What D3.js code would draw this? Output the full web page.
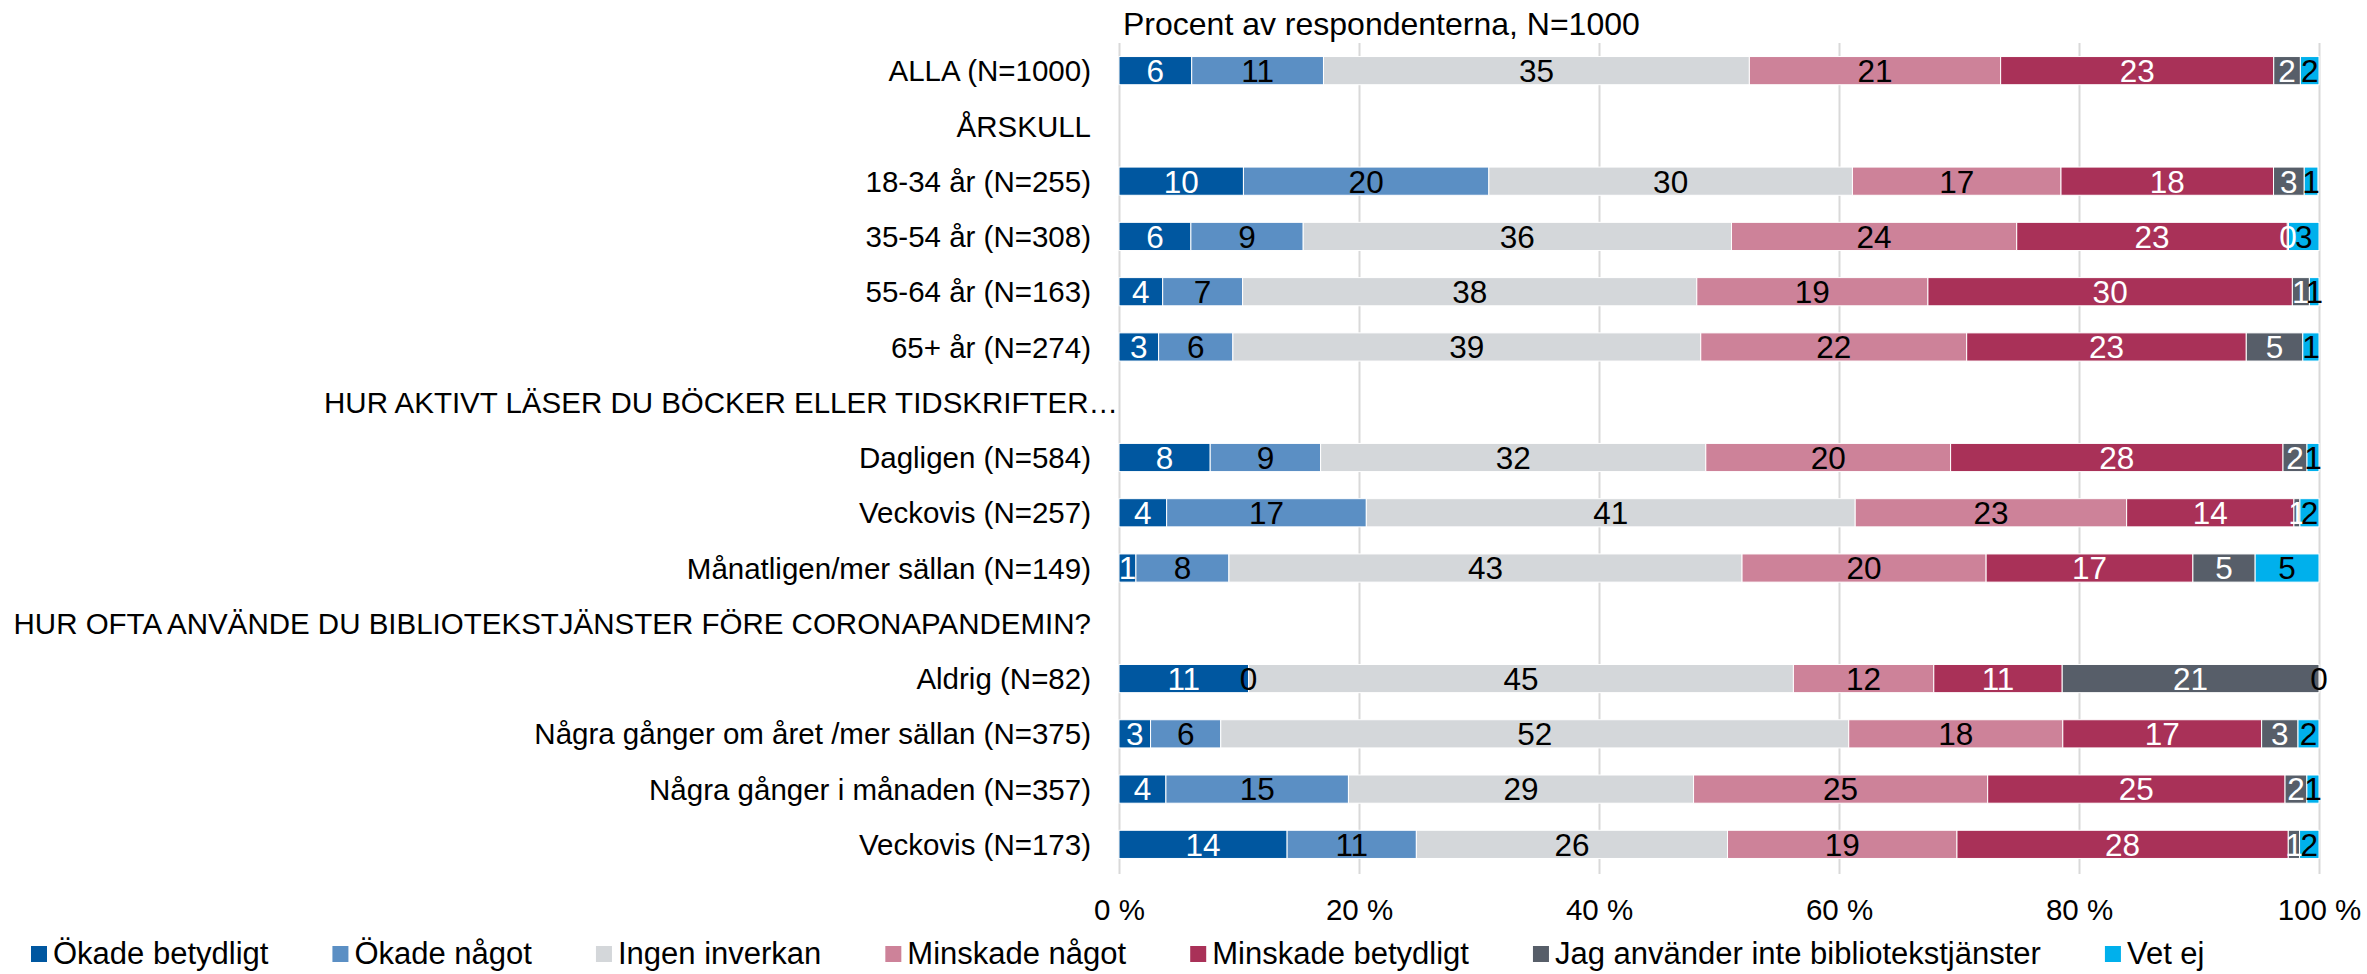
<!DOCTYPE html>
<html>
<head>
<meta charset="utf-8">
<script src="https://cdn.jsdelivr.net/npm/d3@7"></script>
<style>
  body { margin: 0; background: #fff; }
  text { font-family: "Liberation Sans", Arial, sans-serif; }
</style>
</head>
<body>
<div id="chart"></div>
<script>
// rows, top to bottom; header rows carry no values
let categories = [
  'ALLA (N=1000)',
  'ÅRSKULL',
  '18-34 år (N=255)',
  '35-54 år (N=308)',
  '55-64 år (N=163)',
  '65+ år (N=274)',
  'HUR AKTIVT LÄSER DU BÖCKER ELLER TIDSKRIFTER…',
  'Dagligen (N=584)',
  'Veckovis (N=257)',
  'Månatligen/mer sällan (N=149)',
  'HUR OFTA ANVÄNDE DU BIBLIOTEKSTJÄNSTER FÖRE CORONAPANDEMIN?',
  'Aldrig (N=82)',
  'Några gånger om året /mer sällan (N=375)',
  'Några gånger i månaden (N=357)',
  'Veckovis (N=173)'
]

let seriesNames = [
  'Ökade betydligt',
  'Ökade något',
  'Ingen inverkan',
  'Minskade något',
  'Minskade betydligt',
  'Jag använder inte bibliotekstjänster',
  'Vet ej'
]

let seriesColors = ['#0057a0', '#5b8fc4', '#d4d7da', '#cd8299', '#a93158', '#575e69', '#00b0ec']
let labelColors = ['#fff', '#000', '#000', '#000', '#fff', '#fff', '#000']

let okadeBetydligt = [6.06, null, 10.37, 5.99, 3.64, 3.30, null, 7.6, 3.97, 1.41, null, 10.8, 2.63, 3.91, 14.01]
let okadeNagot = [10.98, null, 20.45, 9.36, 6.66, 6.19, null, 9.2, 16.64, 7.75, null, 0, 5.85, 15.21, 10.77]
let ingenInverkan = [35.49, null, 30.30, 35.69, 37.85, 38.99, null, 32.1, 40.74, 42.76, null, 45.4, 52.33, 28.76, 25.93]
let minskadeNagot = [20.94, null, 17.38, 23.77, 19.26, 22.16, null, 20.4, 22.62, 20.34, null, 11.7, 17.84, 24.51, 19.12]
let minskadeBetydligt = [22.76, null, 17.71, 22.55, 30.37, 23.30, null, 27.7, 13.94, 17.23, null, 10.7, 16.57, 24.78, 27.61]
let anvanderInte = [2.22, null, 2.56, 0.1, 1.42, 4.71, null, 2.0, 0.5, 5.19, null, 21.4, 3.03, 1.82, 0.94]
let vetEj = [1.55, null, 1.14, 2.54, 0.8, 1.35, null, 1.0, 1.59, 5.32, null, 0, 1.75, 1.01, 1.62]

let xTicks = [0, 20, 40, 60, 80, 100]
let title = 'Procent av respondenterna, N=1000'

let seriesValues = [okadeBetydligt, okadeNagot, ingenInverkan, minskadeNagot, minskadeBetydligt, anvanderInte, vetEj]

let rows = categories.map(function(c, i) {
  let row = { category: c, header: okadeBetydligt[i] === null }
  seriesNames.forEach(function(s, j) {
    row[s] = seriesValues[j][i] || 0
  })
  return row
})

let fullWidth = 2367
let fullHeight = 974
let margin = { top: 43, left: 1119, right: 48, bottom: 102 }
let width = fullWidth - margin.left - margin.right
let height = fullHeight - margin.top - margin.bottom

let svg = d3
  .select('#chart')
  .append('svg')
  .attr('width', fullWidth)
  .attr('height', fullHeight)

let g = svg.append('g').attr('transform', `translate(${margin.left},${margin.top})`)

let x = d3.scaleLinear().domain([0, 100]).range([0, width])

let y = d3
  .scaleBand()
  .domain(categories)
  .range([0, height])
  .paddingInner(0.49)
  .paddingOuter(0.245)

// gridlines
g.append('g')
  .attr('class', 'grid')
  .attr('transform', `translate(0,${height + 2})`)
  .call(d3.axisBottom(x).tickValues(xTicks).tickSize(-height - 2).tickFormat(''))
  .call(sel => sel.select('.domain').remove())
  .selectAll('line')
  .attr('stroke', '#d9d9d9')
  .attr('stroke-width', 2)

// x axis labels
g.append('g')
  .attr('transform', `translate(0,${height + 2})`)
  .call(d3.axisBottom(x).tickValues(xTicks).tickSize(0).tickFormat(d => d + ' %'))
  .call(sel => sel.select('.domain').remove())
  .selectAll('text')
  .attr('y', 46)
  .attr('dy', 0)
  .attr('fill', '#000')
  .attr('font-size', 29.5)

// category labels
g.append('g')
  .call(d3.axisLeft(y).tickSize(0).tickPadding(28))
  .call(sel => sel.select('.domain').remove())
  .selectAll('text')
  .attr('fill', '#000')
  .attr('font-size', 29.5)
  .attr('dy', '0.36em')
  .attr('dx', d => (d.endsWith('…') ? 27 : 0))

let stacked = d3.stack().keys(seriesNames)(rows)

// bars first, every label afterwards so none gets covered
let layers = g
  .append('g')
  .selectAll('.layer')
  .data(stacked)
  .enter()
  .append('g')
  .attr('class', 'layer')
  .attr('fill', (d, i) => seriesColors[i])

layers
  .selectAll('rect')
  .data(d => d.filter(p => !p.data.header))
  .enter()
  .append('rect')
  .attr('x', d => x(d[0]))
  .attr('width', d => x(d[1]) - x(d[0]))
  .attr('y', d => y(d.data.category))
  .attr('height', y.bandwidth())
  .attr('stroke', '#fff')
  .attr('stroke-width', 1)

let labelLayers = g
  .append('g')
  .selectAll('.labels')
  .data(stacked)
  .enter()
  .append('g')
  .attr('class', 'labels')
  .attr('fill', (d, i) => labelColors[i])

labelLayers
  .selectAll('text')
  .data(d => d.filter(p => !p.data.header))
  .enter()
  .append('text')
  .attr('x', d => (x(d[0]) + x(d[1])) / 2)
  .attr('y', d => y(d.data.category) + y.bandwidth() / 2)
  .attr('dy', '0.36em')
  .attr('text-anchor', 'middle')
  .attr('font-size', 31.5)
  .text(d => Math.round(d[1] - d[0]))

// title above plot
svg
  .append('text')
  .attr('x', margin.left + 4)
  .attr('y', 35)
  .attr('font-size', 32)
  .attr('fill', '#000')
  .text(title)

// legend
let legend = svg.append('g').attr('transform', 'translate(31,946)')
let cursor = 0
seriesNames.forEach(function(name, i) {
  let item = legend.append('g').attr('transform', `translate(${cursor},0)`)
  item
    .append('rect')
    .attr('width', 16)
    .attr('height', 16)
    .attr('fill', seriesColors[i])
  let t = item
    .append('text')
    .attr('x', 22)
    .attr('y', 18)
    .attr('font-size', 31)
    .attr('fill', '#000')
    .text(name)
  cursor += 22 + t.node().getComputedTextLength() + 64
})
</script>
</body>
</html>
